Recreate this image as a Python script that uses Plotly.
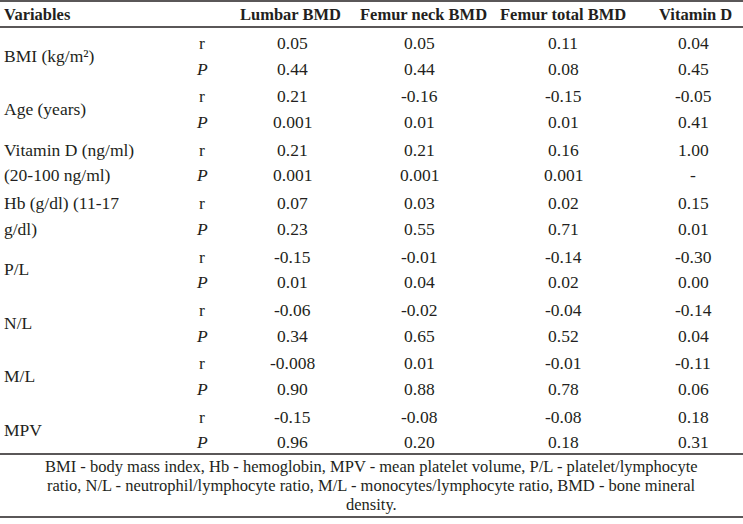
import plotly.graph_objects as go

# ---------------- data ----------------
columns = ["Lumbar BMD", "Femur neck BMD", "Femur total BMD", "Vitamin D"]
variables = ["BMI (kg/m²)", "Age (years)", "Vitamin D (ng/ml)<br>(20-100 ng/ml)",
             "Hb (g/dl) (11-17<br>g/dl)", "P/L", "N/L", "M/L", "MPV"]
stat_labels = ["r", "<i>P</i>"]
lumbar_r = ["0.05", "0.21", "0.21", "0.07", "-0.15", "-0.06", "-0.008", "-0.15"]
lumbar_p = ["0.44", "0.001", "0.001", "0.23", "0.01", "0.34", "0.90", "0.96"]
neck_r = ["0.05", "-0.16", "0.21", "0.03", "-0.01", "-0.02", "0.01", "-0.08"]
neck_p = ["0.44", "0.01", "0.001", "0.55", "0.04", "0.65", "0.88", "0.20"]
total_r = ["0.11", "-0.15", "0.16", "0.02", "-0.14", "-0.04", "-0.01", "-0.08"]
total_p = ["0.08", "0.01", "0.001", "0.71", "0.02", "0.52", "0.78", "0.18"]
vitd_r = ["0.04", "-0.05", "1.00", "0.15", "-0.30", "-0.14", "-0.11", "0.18"]
vitd_p = ["0.45", "0.41", "-", "0.01", "0.00", "0.04", "0.06", "0.31"]
footnote = ["BMI - body mass index, Hb - hemoglobin, MPV - mean platelet volume, P/L - platelet/lymphocyte",
            "ratio, N/L - neutrophil/lymphocyte ratio, M/L - monocytes/lymphocyte ratio, BMD - bone mineral",
            "density."]

# ---------------- layout ----------------
W, H = 743, 524
FONT = "Liberation Serif"
FS = 17.5
HFS = 16.5
NFS = 16.5
COLOR = "#231f20"
col_x = [292, 419, 563, 693]
head_x = [290, 423, 563, 695]
stat_x = 202
label_x = 2
first_row_y = 43
group_step = 53.4
pair_step = 25.5

value_cols = [(lumbar_r, lumbar_p), (neck_r, neck_p), (total_r, total_p), (vitd_r, vitd_p)]

ann = []
def add(text, x, y, anchor="center", bold=False, size=FS):
    ann.append(dict(text=f"<b>{text}</b>" if bold else text, x=x, y=y, xref="x", yref="y",
                    xanchor=anchor, yanchor="middle", showarrow=False,
                    font=dict(family=FONT, size=size, color=COLOR)))

add("Variables", label_x, 14, "left", bold=True, size=HFS)
for c, hx in zip(columns, head_x):
    add(c, hx, 14, "center", bold=True, size=HFS)

for g, var in enumerate(variables):
    yr = first_row_y + g * group_step
    yp = yr + pair_step
    parts = var.split("<br>")
    if len(parts) == 1:
        add(parts[0], label_x, (yr + yp) / 2, "left")
    else:
        add(parts[0], label_x, yr, "left")
        add(parts[1], label_x, yp, "left")
    add(stat_labels[0], stat_x, yr)
    add(stat_labels[1], stat_x, yp)
    for (rv, pv), cx in zip(value_cols, col_x):
        add(rv[g], cx, yr)
        add(pv[g], cx, yp)

for i, line in enumerate(footnote):
    add(line, W / 2, 466 + i * 19, size=NFS)

shapes = []
for y in [1, 27, 454, 517]:
    shapes.append(dict(type="line", xref="x", yref="y", x0=0, x1=W, y0=y, y1=y,
                       line=dict(color=COLOR, width=1.5)))

fig = go.Figure()
fig.add_trace(go.Scatter(x=[0, W], y=[0, H], mode="markers", marker=dict(opacity=0),
                         hoverinfo="skip", showlegend=False))
fig.update_layout(
    width=W, height=H, margin=dict(l=0, r=0, t=0, b=0),
    paper_bgcolor="white", plot_bgcolor="white",
    xaxis=dict(range=[0, W], visible=False, fixedrange=True),
    yaxis=dict(range=[H, 0], visible=False, fixedrange=True),
    annotations=ann, shapes=shapes, showlegend=False,
)
fig.write_html("out.html", config={"displayModeBar": False},
               post_script="document.body.style.margin='0';document.body.style.overflow='hidden';")
